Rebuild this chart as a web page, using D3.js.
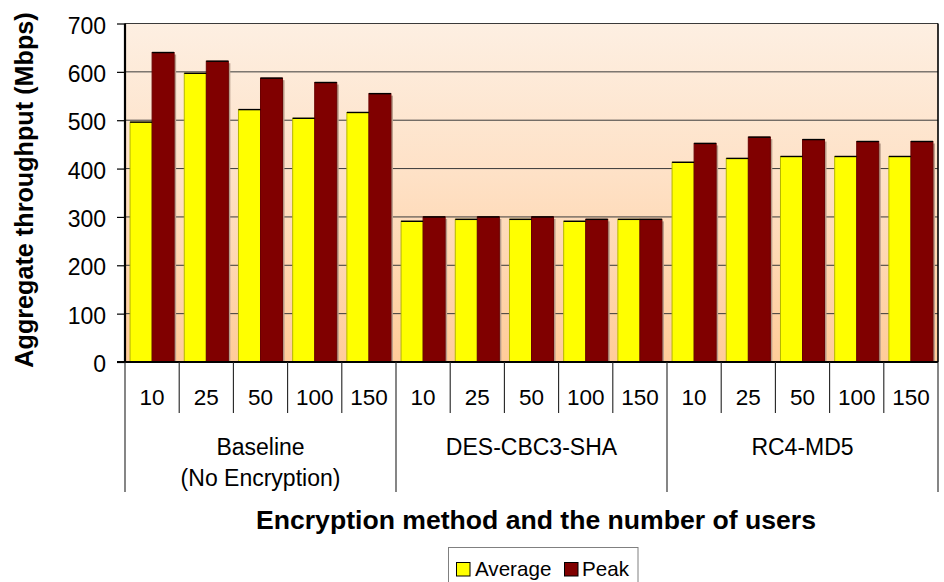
<!DOCTYPE html>
<html>
<head>
<meta charset="utf-8">
<script src="https://cdn.jsdelivr.net/npm/d3@7"></script>
<style>
  html, body { margin: 0; padding: 0; background: #fff; }
  svg { display: block; font-family: Arial, "Liberation Sans", sans-serif; }
</style>
</head>
<body>
<svg id="chart" width="944" height="582"></svg>
<script>
// ---- data ----
const groups = ["Baseline|(No Encryption)", "DES-CBC3-SHA", "RC4-MD5"];
const users = ["10", "25", "50", "100", "150"];
const seriesNames = ["Average", "Peak"];
const average = [496, 597, 522, 504, 516, 291, 295, 295, 291, 295, 413, 421, 425, 425, 425];
const peak    = [640, 622, 587, 578, 555, 300, 300, 300, 295, 295, 452, 465, 460, 456, 456];
const yTicks = [0, 100, 200, 300, 400, 500, 600, 700];

// ---- layout ----
(function () {
const svg = d3.select("#chart");
const pL = 125, pR = 938, pT = 23.5, pB = 362;
const colors = { Average: "#FFFF00", Peak: "#800000" };

const cats = [];
groups.forEach((g, gi) => users.forEach((u) => cats.push({ key: gi + "-" + u, group: gi, user: u })));
const rows = cats.map((c, i) => ({ ...c, Average: average[i], Peak: peak[i] }));

const x = d3.scaleBand().domain(cats.map(c => c.key)).range([pL, pR]).paddingInner(0).paddingOuter(0);
const xIn = d3.scaleBand().domain(seriesNames).range([0, x.bandwidth()]).paddingInner(0).paddingOuter(0.23);
const y = d3.scaleLinear().domain([0, 700]).range([pB, pT]);

// background gradient
const defs = svg.append("defs");
const grad = defs.append("linearGradient").attr("id", "bg").attr("x1", 0).attr("y1", 0).attr("x2", 0).attr("y2", 1);
grad.append("stop").attr("offset", "0%").attr("stop-color", "#FDEFE2");
grad.append("stop").attr("offset", "45%").attr("stop-color", "#FEE1C6");
grad.append("stop").attr("offset", "100%").attr("stop-color", "#FFCC99");

svg.append("rect").attr("x", pL).attr("y", pT).attr("width", pR - pL).attr("height", pB - pT)
  .attr("fill", "url(#bg)");

// gridlines
svg.append("g").selectAll("line").data(yTicks.slice(1)).join("line")
  .attr("x1", pL).attr("x2", pR).attr("y1", d => y(d)).attr("y2", d => y(d))
  .attr("stroke", "#3a3a3a").attr("stroke-width", 1);

// bars
const bars = svg.append("g");
const cg = bars.selectAll("g").data(rows).join("g").attr("transform", d => `translate(${x(d.key)},0)`);
cg.selectAll("rect.shadow").data(d => seriesNames.map(s => ({ s, v: d[s] }))).join("rect")
  .attr("class", "shadow")
  .attr("x", d => xIn(d.s) + 2).attr("y", d => y(d.v) + 2)
  .attr("width", xIn.bandwidth()).attr("height", d => pB - y(d.v) - 2)
  .attr("fill", "#B89C8A");
cg.selectAll("rect.bar").data(d => seriesNames.map(s => ({ s, v: d[s] }))).join("rect")
  .attr("class", "bar")
  .attr("x", d => xIn(d.s)).attr("y", d => y(d.v))
  .attr("width", xIn.bandwidth()).attr("height", d => pB - y(d.v))
  .attr("fill", d => colors[d.s])
  .attr("stroke", d => d.s === "Average" ? "#B5B500" : "#6a0000").attr("stroke-width", 1);
cg.selectAll("line.topl").data(d => seriesNames.map(s => ({ s, v: d[s] }))).join("line")
  .attr("class", "topl")
  .attr("x1", d => xIn(d.s)).attr("x2", d => xIn(d.s) + xIn.bandwidth())
  .attr("y1", d => y(d.v)).attr("y2", d => y(d.v))
  .attr("stroke", "#000").attr("stroke-width", 1.4);

// right border
svg.append("line").attr("x1", pR).attr("x2", pR).attr("y1", pT).attr("y2", pB)
  .attr("stroke", "#000").attr("stroke-width", 1.6);

// y axis
const yAxis = svg.append("g").attr("transform", `translate(${pL},0)`)
  .call(d3.axisLeft(y).tickValues(yTicks).tickSize(8).tickPadding(11).tickFormat(d3.format("d")));
yAxis.select(".domain").attr("stroke", "#000").attr("stroke-width", 2.2).attr("d", `M0,${pT}V${pB}`);
yAxis.selectAll(".tick line").attr("stroke", "#000").attr("stroke-width", 1.2);
yAxis.selectAll(".tick text").attr("font-size", 23).attr("fill", "#000").attr("dy", "0.42em")
  .attr("font-family", "Arial, 'Liberation Sans', sans-serif");

// bottom axis line
svg.append("line").attr("x1", pL - 8).attr("x2", pR).attr("y1", pB).attr("y2", pB)
  .attr("stroke", "#000").attr("stroke-width", 2);

// category separators
const seps = svg.append("g");
cats.forEach((c, i) => {
  const xs = x(c.key);
  const isGroup = i % users.length === 0;
  seps.append("line").attr("x1", xs).attr("x2", xs).attr("y1", pB).attr("y2", isGroup ? 492 : 413)
    .attr("stroke", "#222").attr("stroke-width", 1.1);
});
seps.append("line").attr("x1", pR).attr("x2", pR).attr("y1", pB).attr("y2", 492)
  .attr("stroke", "#222").attr("stroke-width", 1.1);

// category labels
svg.append("g").selectAll("text").data(cats).join("text")
  .attr("x", d => x(d.key) + x.bandwidth() / 2).attr("y", 405)
  .attr("text-anchor", "middle").attr("font-size", 22.5).attr("fill", "#000")
  .text(d => d.user);

// group labels
groups.forEach((g, gi) => {
  const first = x(gi + "-" + users[0]);
  const last = x(gi + "-" + users[users.length - 1]) + x.bandwidth();
  const t = svg.append("text").attr("x", (first + last) / 2).attr("y", 455)
    .attr("text-anchor", "middle").attr("font-size", 23).attr("fill", "#000");
  g.split("|").forEach((line, li) => {
    t.append("tspan").attr("x", (first + last) / 2).attr("dy", li === 0 ? 0 : 31).text(line);
  });
});

// axis titles
svg.append("text").attr("x", 536).attr("y", 529).attr("text-anchor", "middle")
  .attr("font-size", 26.6).attr("font-weight", "bold").attr("fill", "#000")
  .text("Encryption method and the number of users");
svg.append("text").attr("transform", "translate(33,190) rotate(-90)").attr("text-anchor", "middle")
  .attr("font-size", 25.2).attr("font-weight", "bold").attr("fill", "#000")
  .text("Aggregate throughput (Mbps)");

// legend
const lg = svg.append("g");
lg.append("rect").attr("x", 448.5).attr("y", 547.5).attr("width", 189.5).attr("height", 45)
  .attr("fill", "#fff").attr("stroke", "#808080").attr("stroke-width", 1);
const legendItems = [{ s: "Average", bx: 456, tx: 475 }, { s: "Peak", bx: 564, tx: 582 }];
legendItems.forEach(it => {
  lg.append("rect").attr("x", it.bx + 0.5).attr("y", 562.5).attr("width", 13.5).attr("height", 13.5)
    .attr("fill", colors[it.s]).attr("stroke", "#000").attr("stroke-width", 1);
  lg.append("text").attr("x", it.tx).attr("y", 576).attr("font-size", 20.6).attr("fill", "#000").text(it.s);
});
})();
</script>
</body>
</html>
